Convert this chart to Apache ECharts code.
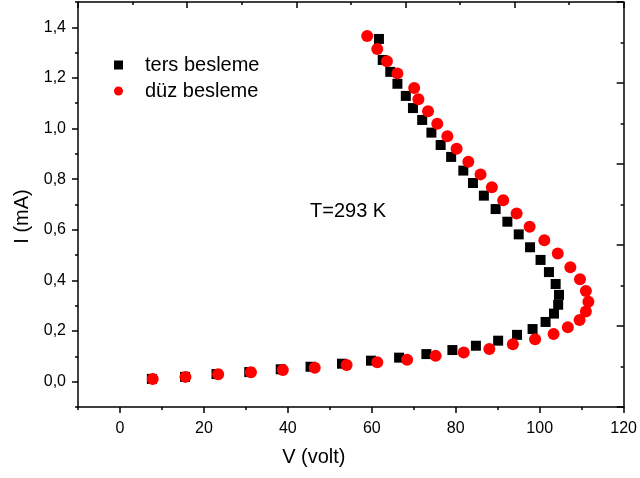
<!DOCTYPE html>
<html>
<head>
<meta charset="utf-8">
<script src="https://cdn.jsdelivr.net/npm/echarts@6/dist/echarts.min.js"></script>
<style>html,body{margin:0;padding:0;background:#fff}#c{width:640px;height:478px}</style>
</head>
<body>
<div id="c"></div>
<script>
// ters besleme (black squares)
var tersV = [7.6,15.5,23.0,30.8,38.3,45.4,52.9,59.8,66.5,73.0,79.2,84.8,90.1,94.6,98.3,101.4,103.4,104.4,104.6,103.8,102.2,100.2,97.7,95.0,92.3,89.5,86.7,84.1,81.8,78.9,76.4,74.2,72.0,69.8,68.1,66.1,64.4,62.6,61.7];
var tersI = [0.011,0.019,0.030,0.038,0.049,0.059,0.071,0.083,0.095,0.109,0.125,0.142,0.162,0.185,0.208,0.236,0.269,0.304,0.343,0.386,0.433,0.481,0.531,0.582,0.632,0.682,0.735,0.785,0.834,0.888,0.935,0.984,1.034,1.081,1.129,1.177,1.224,1.271,1.354];
// düz besleme (red circles)
var duzV = [7.8,15.6,23.4,31.2,38.8,46.4,54.0,61.3,68.4,75.2,81.9,88.0,93.6,98.9,103.3,106.7,109.5,111.0,111.6,111.0,109.6,107.3,104.3,101.1,97.6,94.5,91.3,88.6,85.9,83.0,80.2,78.0,75.6,73.4,71.1,70.1,66.1,63.6,61.3,58.9];
var duzI = [0.011,0.019,0.029,0.037,0.046,0.055,0.066,0.077,0.087,0.102,0.115,0.129,0.148,0.168,0.188,0.215,0.244,0.277,0.316,0.358,0.405,0.452,0.506,0.559,0.612,0.664,0.717,0.768,0.819,0.869,0.920,0.970,1.019,1.068,1.116,1.160,1.218,1.266,1.314,1.366];
var xTicks = [0,20,40,60,80,100,120];
var yTicks = [0,0.2,0.4,0.6,0.8,1.0,1.2,1.4];
var seriesNames = ['ters besleme','düz besleme'];
var annotation = 'T=293 K';

function zip(a,b){return a.map(function(v,i){return [v,b[i]];});}
var FONT = '"Liberation Sans", Arial, sans-serif';
var LS = {color:'#000',width:1.5};
var rect = {left:78,right:16,top:2,bottom:71,containLabel:false};
var chart = echarts.init(document.getElementById('c'), null, {renderer:'canvas'});
chart.setOption({
  animation:false,
  backgroundColor:'#fff',
  textStyle:{fontFamily:FONT},
  grid:[Object.assign({},rect),Object.assign({},rect)],
  legend:{
    orient:'vertical', left:109, top:50, itemGap:6, itemWidth:9, itemHeight:9,
    textStyle:{fontFamily:FONT,fontSize:20,color:'#000',padding:[0,0,0,17]},
    data:[{name:seriesNames[0],icon:'rect'},{name:seriesNames[1],icon:'circle'}]
  },
  xAxis:[
    {gridIndex:0,type:'value',min:-10,max:120,position:'bottom',
     axisLine:{show:true,onZero:false,lineStyle:LS},
     axisTick:{show:true,length:6,customValues:xTicks,lineStyle:LS},
     axisLabel:{show:true,customValues:xTicks,margin:14,fontFamily:FONT,fontSize:16,color:'#000'},
     splitLine:{show:false},
     name:'V (volt)',nameLocation:'middle',nameGap:40,
     nameTextStyle:{fontFamily:FONT,fontSize:20,color:'#000',padding:[0,74,0,0]}},
    {gridIndex:0,type:'value',min:0,max:5,interval:1,position:'top',
     axisLine:{show:true,onZero:false,lineStyle:LS},
     axisTick:{show:true,inside:true,length:6,lineStyle:LS},
     minorTick:{show:true,splitNumber:2,length:3,lineStyle:LS},
     axisLabel:{show:false},splitLine:{show:false},minorSplitLine:{show:false}},
    {gridIndex:1,type:'value',min:-10,max:120,interval:10,position:'bottom',
     axisLine:{show:false,onZero:false},
     axisTick:{show:true,length:3,lineStyle:LS},
     axisLabel:{show:false},splitLine:{show:false}}
  ],
  yAxis:[
    {gridIndex:0,type:'value',min:-0.1,max:1.5,position:'left',
     axisLine:{show:true,onZero:false,lineStyle:LS},
     axisTick:{show:true,length:6,customValues:yTicks,lineStyle:LS},
     axisLabel:{show:true,customValues:yTicks,margin:12,fontFamily:FONT,fontSize:16,color:'#000',
       formatter:function(v){return v.toFixed(1).replace('.',',');}},
     splitLine:{show:false},
     name:'I (mA)',nameLocation:'middle',nameGap:44,nameRotate:90,
     nameTextStyle:{fontFamily:FONT,fontSize:20,color:'#000',padding:[0,24,0,0]}},
    {gridIndex:0,type:'value',min:0,max:5,interval:1,position:'right',inverse:true,
     axisLine:{show:true,onZero:false,lineStyle:LS},
     axisTick:{show:true,inside:true,length:7,lineStyle:LS},
     minorTick:{show:true,splitNumber:2,length:3,lineStyle:LS},
     axisLabel:{show:false},splitLine:{show:false},minorSplitLine:{show:false}},
    {gridIndex:1,type:'value',min:-0.1,max:1.5,interval:0.1,position:'left',
     axisLine:{show:false,onZero:false},
     axisTick:{show:true,length:3,lineStyle:LS},
     axisLabel:{show:false},splitLine:{show:false}}
  ],
  graphic:[
    {type:'text',left:310,top:201,style:{text:annotation,font:'20px "Liberation Sans", Arial, sans-serif',fill:'#000'}}
  ],
  series:[
    {name:seriesNames[0],type:'scatter',xAxisIndex:0,yAxisIndex:0,symbol:'rect',symbolSize:10,
     itemStyle:{color:'#000',opacity:1},data:zip(tersV,tersI)},
    {name:seriesNames[1],type:'scatter',xAxisIndex:0,yAxisIndex:0,symbol:'circle',symbolSize:12,
     itemStyle:{color:'#ff0000',opacity:1},data:zip(duzV,duzI)}
  ]
});
</script>
</body>
</html>
